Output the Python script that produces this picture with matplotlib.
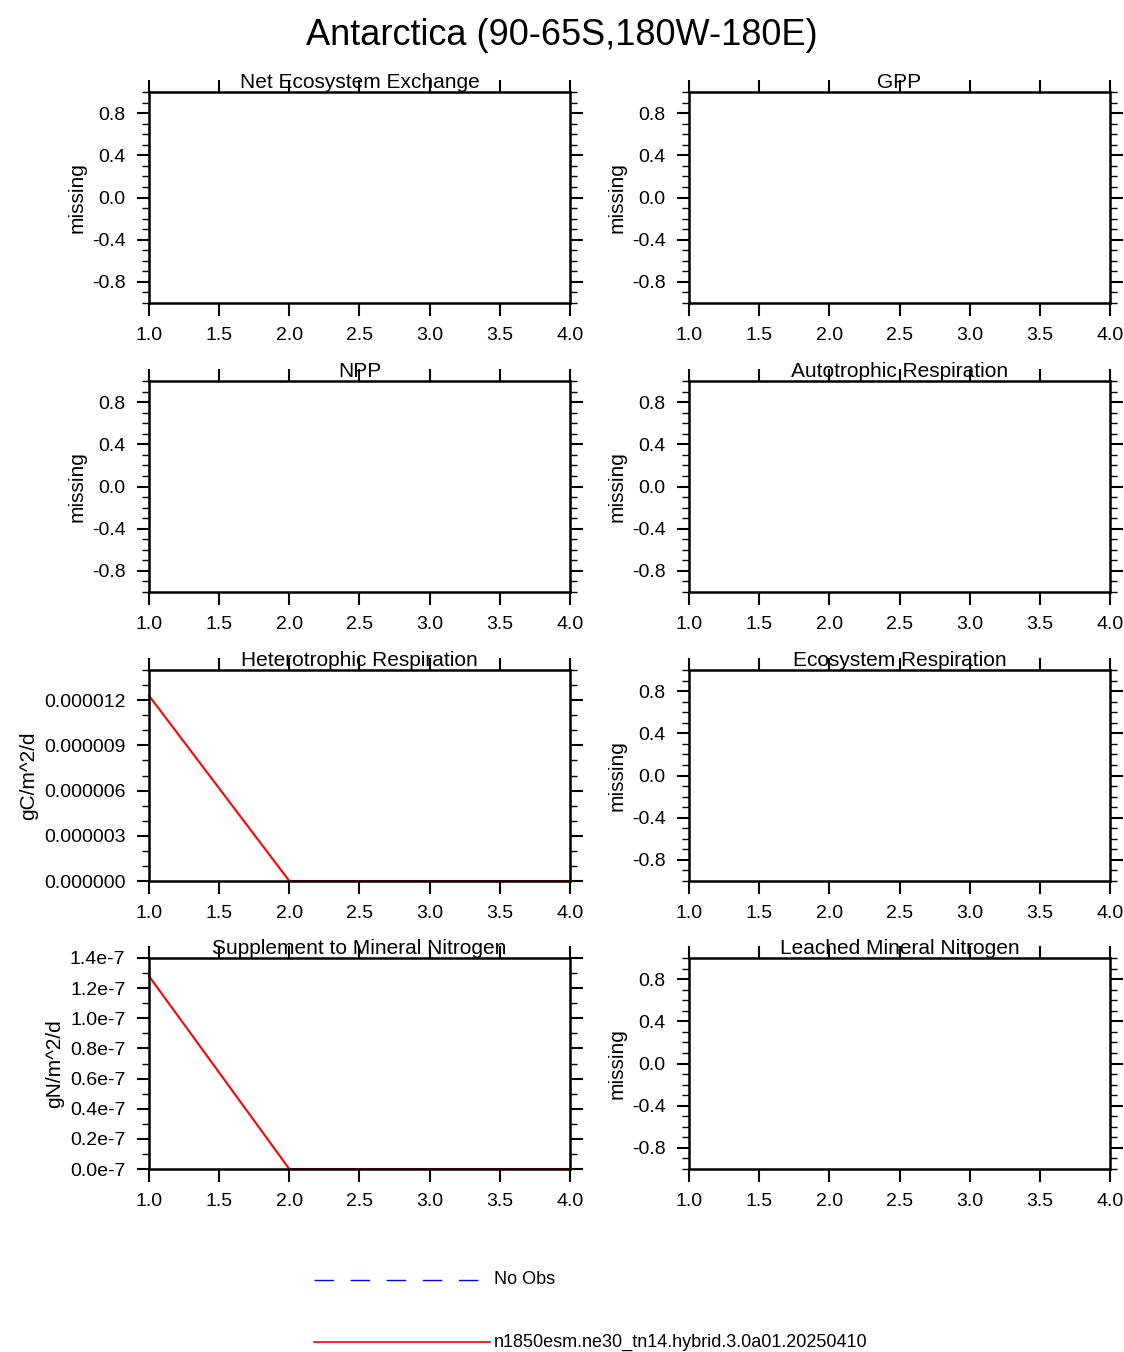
import matplotlib
matplotlib.use("Agg")
import matplotlib.pyplot as plt
from matplotlib.ticker import MultipleLocator, FuncFormatter
from matplotlib.lines import Line2D

plt.rcParams['font.family'] = ['Liberation Sans', 'DejaVu Sans']

titles = ["Net Ecosystem Exchange", "GPP", "NPP", "Autotrophic Respiration",
          "Heterotrophic Respiration", "Ecosystem Respiration",
          "Supplement to Mineral Nitrogen", "Leached Mineral Nitrogen"]
years = [1.0, 2.0, 3.0, 4.0]
hr_vals = [1.23e-5, 0.0, 0.0, 0.0]
sminn_vals = [1.28e-7, 0.0, 0.0, 0.0]
xticks = [1.0, 1.5, 2.0, 2.5, 3.0, 3.5, 4.0]

W, H = 1124, 1352
fig = plt.figure(figsize=(W/100, H/100), dpi=100)
fig.suptitle("Antarctica (90-65S,180W-180E)", fontsize=26, y=1-18/H)

lefts = [149, 689]
tops = [92, 381, 670, 958]
aw, ah = 421, 211

for i, t in enumerate(titles):
    r, c = divmod(i, 2)
    ax = fig.add_axes([lefts[c]/W, 1-(tops[r]+ah)/H, aw/W, ah/H])
    ax.set_xlim(1, 4)
    ax.set_xticks(xticks)
    ax.xaxis.set_major_formatter(FuncFormatter(lambda v, p: f"{v:.1f}"))
    ax.tick_params(which='both', direction='out', top=True, right=True,
                   labelsize=14, width=1.5, pad=8)
    ax.tick_params(which='major', length=9)
    ax.tick_params(which='minor', length=5, width=1)
    for s in ax.spines.values():
        s.set_linewidth(1.8)
    ax.set_title(t, fontsize=15, pad=2)
    if i == 4:
        ax.plot(years, hr_vals, color='red', lw=1.5, clip_on=False)
        ax.set_ylim(0, 1.4e-5)
        ax.yaxis.set_major_locator(MultipleLocator(3e-6))
        ax.yaxis.set_minor_locator(MultipleLocator(1e-6))
        ax.yaxis.set_major_formatter(FuncFormatter(lambda v, p: f"{v:.6f}"))
        ax.set_ylabel("gC/m^2/d", fontsize=15)
    elif i == 6:
        ax.plot(years, sminn_vals, color='red', lw=1.5, clip_on=False)
        ax.set_ylim(0, 1.4e-7)
        ax.yaxis.set_major_locator(MultipleLocator(2e-8))
        ax.yaxis.set_minor_locator(MultipleLocator(1e-8))
        ax.yaxis.set_major_formatter(FuncFormatter(lambda v, p: f"{v*1e7:.1f}e-7"))
        ax.set_ylabel("gN/m^2/d", fontsize=15)
    else:
        ax.set_ylim(-1, 1)
        ax.yaxis.set_major_locator(MultipleLocator(0.4))
        ax.set_yticks([-0.8, -0.4, 0.0, 0.4, 0.8])
        ax.yaxis.set_minor_locator(MultipleLocator(0.1))
        ax.yaxis.set_major_formatter(FuncFormatter(lambda v, p: f"{v:.1f}"))
        ax.set_ylabel("missing", fontsize=15)

fig.add_artist(Line2D([314/W, 490/W], [1-1280/H]*2, color='blue', lw=1,
                      dashes=(14, 12)))
fig.text(494/W, 1-1280/H, "No Obs", fontsize=13, va='center')
fig.add_artist(Line2D([314/W, 490/W], [1-1342/H]*2, color='red', lw=1.2))
fig.text(494/W, 1-1342/H, "n1850esm.ne30_tn14.hybrid.3.0a01.20250410",
         fontsize=13, va='center')

fig.savefig("out.png", dpi=100)
